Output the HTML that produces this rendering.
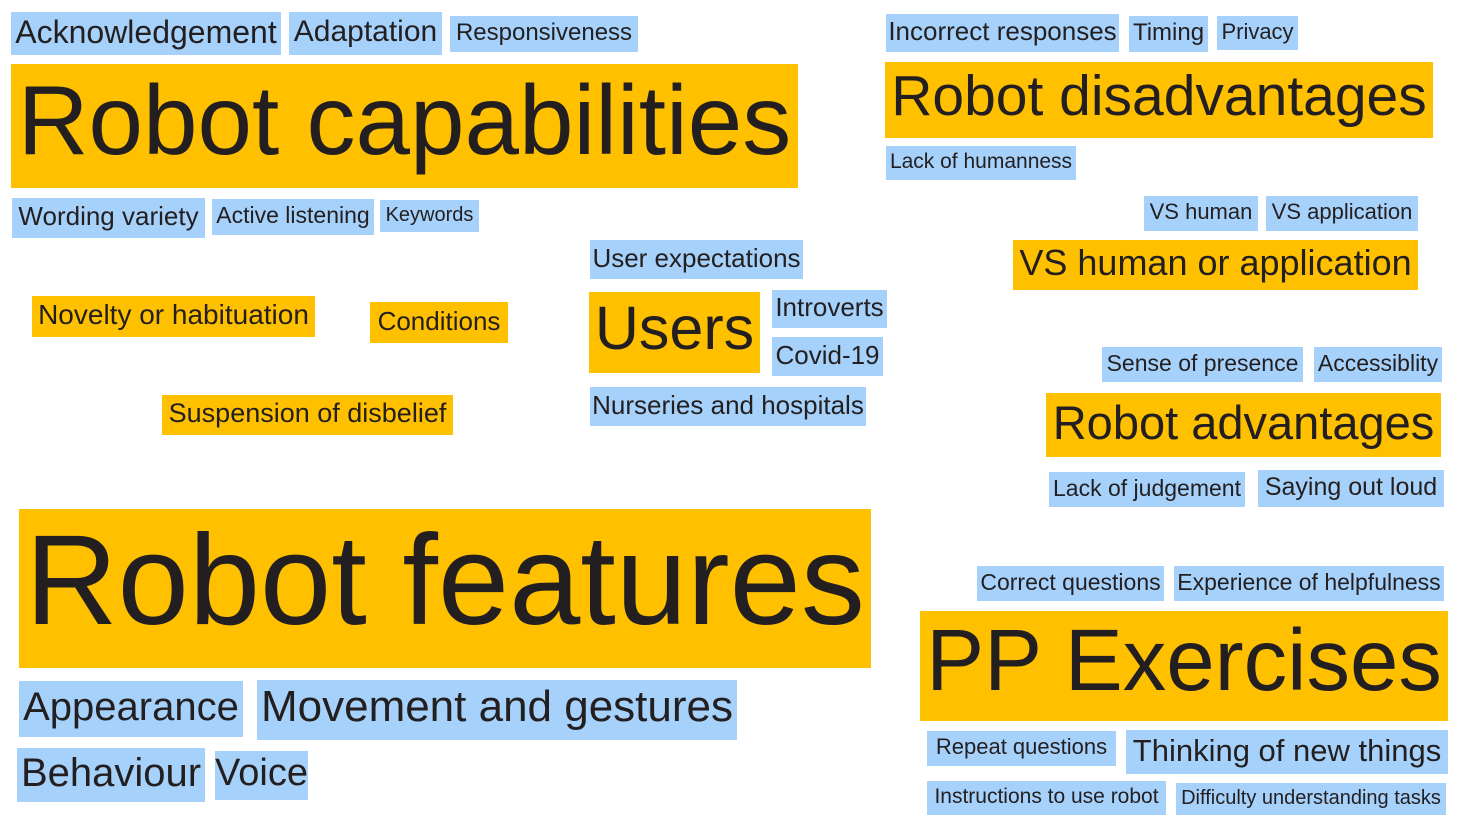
<!DOCTYPE html>
<html><head><meta charset="utf-8"><style>
html,body{margin:0;padding:0;background:#fff;}
body{width:1469px;height:828px;position:relative;overflow:hidden;font-family:"Liberation Sans",Arial,sans-serif;color:#231f20;}
.t{position:absolute;display:flex;align-items:center;justify-content:center;white-space:nowrap;line-height:1;box-sizing:border-box;padding-bottom:0.12em;}
.b{background:#a6d1fa;}
.o{background:#ffc000;}
</style></head><body>
<div class="t b" style="left:11px;top:12px;width:270px;height:43px;font-size:32px">Acknowledgement</div>
<div class="t b" style="left:289px;top:12px;width:153px;height:43px;font-size:30px">Adaptation</div>
<div class="t b" style="left:450px;top:16px;width:188px;height:36px;font-size:24px">Responsiveness</div>
<div class="t o" style="left:11px;top:64px;width:787px;height:124px;font-size:98px">Robot capabilities</div>
<div class="t b" style="left:12px;top:198px;width:193px;height:40px;font-size:26px">Wording variety</div>
<div class="t b" style="left:212px;top:199px;width:162px;height:36px;font-size:23px">Active listening</div>
<div class="t b" style="left:380px;top:200px;width:99px;height:32px;font-size:20px">Keywords</div>
<div class="t o" style="left:32px;top:296px;width:283px;height:41px;font-size:28px">Novelty or habituation</div>
<div class="t o" style="left:370px;top:302px;width:138px;height:41px;font-size:26px">Conditions</div>
<div class="t o" style="left:162px;top:395px;width:291px;height:40px;font-size:27px">Suspension of disbelief</div>
<div class="t b" style="left:590px;top:240px;width:213px;height:39px;font-size:26px">User expectations</div>
<div class="t o" style="left:589px;top:292px;width:171px;height:81px;font-size:61px">Users</div>
<div class="t b" style="left:772px;top:290px;width:115px;height:38px;font-size:26px">Introverts</div>
<div class="t b" style="left:772px;top:337px;width:111px;height:39px;font-size:26px">Covid-19</div>
<div class="t b" style="left:590px;top:387px;width:276px;height:39px;font-size:26px">Nurseries and hospitals</div>
<div class="t b" style="left:886px;top:14px;width:233px;height:38px;font-size:26px">Incorrect responses</div>
<div class="t b" style="left:1129px;top:16px;width:79px;height:36px;font-size:24px">Timing</div>
<div class="t b" style="left:1217px;top:16px;width:81px;height:34px;font-size:22px">Privacy</div>
<div class="t o" style="left:885px;top:62px;width:548px;height:76px;font-size:57px">Robot disadvantages</div>
<div class="t b" style="left:886px;top:146px;width:190px;height:34px;font-size:21px">Lack of humanness</div>
<div class="t b" style="left:1144px;top:196px;width:114px;height:35px;font-size:22px">VS human</div>
<div class="t b" style="left:1266px;top:196px;width:152px;height:35px;font-size:22px">VS application</div>
<div class="t o" style="left:1013px;top:240px;width:405px;height:50px;font-size:36px">VS human or application</div>
<div class="t b" style="left:1102px;top:347px;width:201px;height:35px;font-size:23px">Sense of presence</div>
<div class="t b" style="left:1314px;top:347px;width:128px;height:35px;font-size:23px">Accessiblity</div>
<div class="t o" style="left:1046px;top:393px;width:395px;height:64px;font-size:47px">Robot advantages</div>
<div class="t b" style="left:1049px;top:472px;width:196px;height:35px;font-size:23px">Lack of judgement</div>
<div class="t b" style="left:1258px;top:470px;width:186px;height:37px;font-size:25px">Saying out loud</div>
<div class="t o" style="left:19px;top:509px;width:852px;height:159px;font-size:128px">Robot features</div>
<div class="t b" style="left:19px;top:681px;width:224px;height:56px;font-size:40px">Appearance</div>
<div class="t b" style="left:257px;top:680px;width:480px;height:60px;font-size:44px">Movement and gestures</div>
<div class="t b" style="left:17px;top:748px;width:188px;height:54px;font-size:40px">Behaviour</div>
<div class="t b" style="left:215px;top:751px;width:93px;height:49px;font-size:38px">Voice</div>
<div class="t b" style="left:977px;top:566px;width:187px;height:35px;font-size:23px">Correct questions</div>
<div class="t b" style="left:1174px;top:566px;width:270px;height:35px;font-size:23px">Experience of helpfulness</div>
<div class="t o" style="left:920px;top:611px;width:528px;height:110px;font-size:87px">PP Exercises</div>
<div class="t b" style="left:927px;top:731px;width:189px;height:35px;font-size:22px">Repeat questions</div>
<div class="t b" style="left:1126px;top:730px;width:322px;height:44px;font-size:31px">Thinking of new things</div>
<div class="t b" style="left:927px;top:781px;width:239px;height:34px;font-size:21px">Instructions to use robot</div>
<div class="t b" style="left:1176px;top:783px;width:270px;height:32px;font-size:20px">Difficulty understanding tasks</div>
</body></html>
